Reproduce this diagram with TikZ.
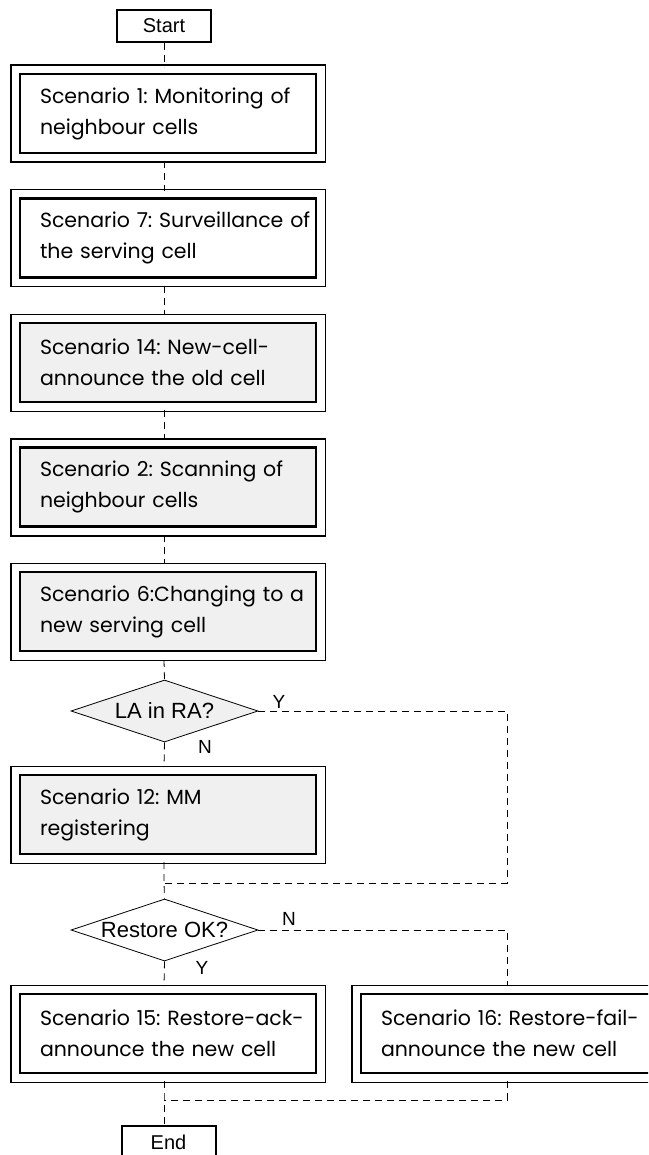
\documentclass[tikz,border=0pt]{standalone}
\usepackage{fontspec}
\setmainfont{Poppins}
\newfontfamily\labelfont{Liberation Sans}
\usetikzlibrary{shapes.geometric}
\definecolor{shade}{HTML}{F0F0F0}
\newcommand\twolines[2]{\mbox{#1}\\\mbox{#2}}
\tikzset{
  scen/.style={draw, line width=2.5pt, minimum width=296pt, minimum height=79pt,
    text width=256pt, align=left, inner sep=0pt, font=\fontsize{20.5}{31}\selectfont},
  grey/.style={fill=shade},
  term/.style={draw, line width=2pt, minimum width=94pt, minimum height=32pt, inner sep=0pt,
    font=\labelfont\fontsize{20}{22}\selectfont},
  decide/.style={diamond, draw, line width=0.8pt, aspect=3.02, minimum width=187pt, minimum height=62pt,
    inner sep=0pt, font=\labelfont\fontsize{22}{24}\selectfont},
  conn/.style={line width=0.8pt, dash pattern=on 7pt off 5pt},
  lbl/.style={font=\labelfont\fontsize{19}{20}\selectfont, inner sep=0pt},
  outerbox/.style={line width=1.5pt}
}
\hbadness=10000 \hfuzz=100pt
\begin{document}
\frenchspacing
\begin{tikzpicture}[x=1pt,y=-1pt]
\useasboundingbox (0,0) rectangle (648,1155);
\clip (0,0) rectangle (648,1155);
\node[term] (start) at (164,26) {Start};
\node[scen] (s1) at (168,113.5) {\twolines{Scenario 1: Monitoring of}{neighbour cells}};
\node[scen] (s7) at (168,238) {\twolines{Scenario 7: Surveillance of}{the serving cell}};
\node[scen,grey] (s14) at (168,362.5) {\twolines{Scenario 14: New-cell-}{announce the old cell}};
\node[scen,grey] (s2) at (168,487) {\twolines{Scenario 2: Scanning of}{neighbour cells}};
\node[scen,grey] (s6) at (168,611.5) {\twolines{Scenario 6:Changing to a}{new serving cell}};
\node[decide,fill=shade] (d1) at (164.5,711) {LA in RA?};
\node[scen,grey] (s12) at (168,814.5) {\twolines{Scenario 12: MM}{registering}};
\node[decide,fill=white] (d2) at (164.5,930) {Restore OK?};
\node[scen] (s15) at (168,1033.5) {\twolines{Scenario 15: Restore-ack-}{announce the new cell}};
\node[scen] (s16) at (509,1033.5) {\twolines{Scenario 16: Restore-fail-}{announce the new cell}};
\node[term] (end) at (168.5,1142) {End};
\foreach \n in {s1,s7,s14,s2,s6,s12,s15,s16}
  \draw[outerbox] ([xshift=-8pt,yshift=7.5pt]\n.north west) rectangle ([xshift=8pt,yshift=-8pt]\n.south east);
\coordinate (m1) at (164,883);
\coordinate (r1) at (507,711);
\coordinate (r1b) at (507,883);
\coordinate (r2) at (507,930);
\coordinate (m2) at (164,1100);
\coordinate (r3) at (507,1100);
\draw[conn] (start.south) -- ++(0,24);
\draw[conn] (164,161) -- (164,191);
\draw[conn] (164,286) -- (164,315);
\draw[conn] (164,410) -- (164,440);
\draw[conn] (164,535) -- (164,563);
\draw[conn] (164,660) -- (d1.north);
\draw[conn] (d1.south) -- (164,767);
\draw[conn] (d1.east) -- (r1) -- (r1b) -- (m1);
\draw[conn] (164,862) -- (m1) -- (d2.north);
\draw[conn] (d2.east) -- (r2) -- (507,986);
\draw[conn] (d2.south) -- (164,986);
\draw[conn] (164,1081) -- (m2) -- (164,1126);
\draw[conn] (507,1081) -- (r3) -- (m2);
\node[lbl] at (279,702) {Y};
\node[lbl] at (205,747) {N};
\node[lbl] at (289,919) {N};
\node[lbl] at (202,968) {Y};
\end{tikzpicture}
\end{document}
